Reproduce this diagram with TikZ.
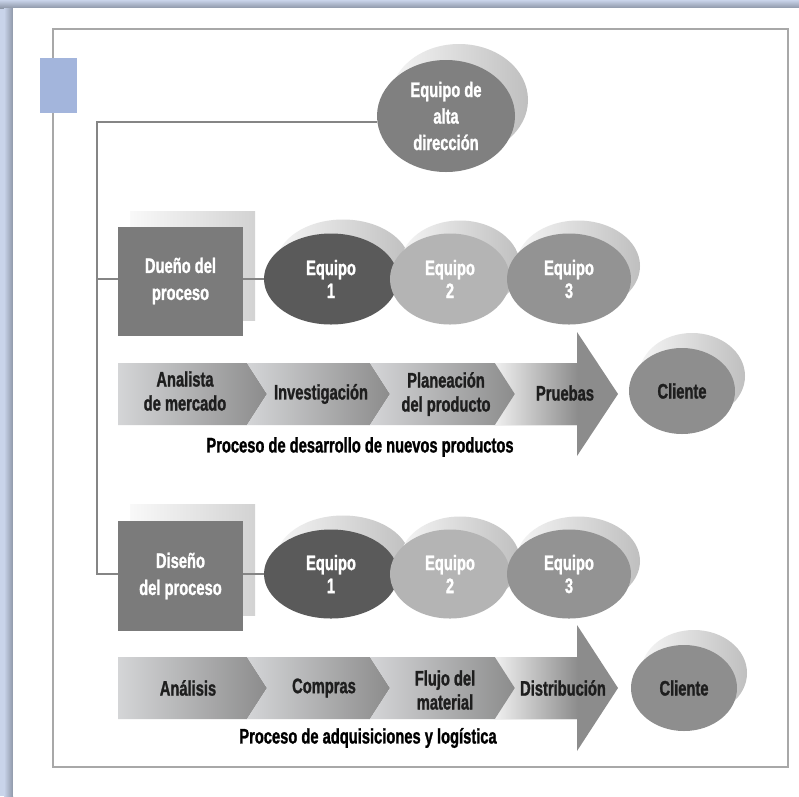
\documentclass[tikz,border=0pt]{standalone}
\usepackage{fontspec}
\setmainfont{Liberation Sans}[FakeStretch=0.7, BoldFeatures={FakeBold=1.2}]
\usetikzlibrary{shapes.geometric}

\definecolor{pagebg}{HTML}{C9D4EA}
\definecolor{edgeshade}{HTML}{8E97A8}
\definecolor{tabblue}{HTML}{A3B5DC}
\definecolor{framegray}{HTML}{A8A8A8}
\definecolor{linegray}{HTML}{858585}
\definecolor{boxgray}{HTML}{7B7B7B}
\definecolor{topgray}{HTML}{808080}
\definecolor{teamA}{HTML}{5A5A5A}
\definecolor{teamB}{HTML}{B4B4B4}
\definecolor{teamC}{HTML}{939393}
\definecolor{clientgray}{HTML}{8E8E8E}
\definecolor{steplight}{HTML}{D4D5D7}
\definecolor{stepdark}{HTML}{8C8C8C}
\definecolor{inkdark}{HTML}{1E1E1E}

\tikzset{
  lbl/.style={font=\bfseries\fontsize{21}{23}\selectfont, align=center, inner sep=0pt},
  tree/.style={draw=linegray, line width=1.3pt},
  backoval/.style={ellipse, draw=none, inner sep=0pt, left color=gray!8, right color=gray!50},
  backbox/.style={rectangle, draw=none, inner sep=0pt, left color=gray!5, right color=gray!35,
                  minimum width=125pt, minimum height=109pt},
  team/.style={ellipse, draw=none, inner sep=0pt, minimum height=91pt, lbl, text=white},
  procbox/.style={rectangle, draw=none, fill=boxgray, inner sep=0pt, minimum width=125pt,
                  minimum height=109pt, lbl, text=white,
                  font=\bfseries\fontsize{21}{27}\selectfont},
  client/.style={ellipse, draw=none, inner sep=0pt, minimum width=106pt, minimum height=86pt,
                 fill=clientgray, lbl, text=inkdark},
  steptext/.style={lbl, text=inkdark, font=\bfseries\fontsize{21}{24}\selectfont},
  caption/.style={lbl, text=black},
}

\begin{document}
\begin{tikzpicture}[x=1pt, y=-1pt]
  \useasboundingbox (0,0) rectangle (799,796);

  % page and its shaded edges
  \fill[pagebg] (0,0) rectangle (799,796);
  \shade[top color=pagebg, bottom color=edgeshade] (0,0) rectangle (799,8);
  \shade[left color=pagebg, right color=edgeshade] (4,8) rectangle (13,796);
  \fill[white] (13,8) rectangle (799,796);

  % inner frame and tab
  \draw[framegray, line width=1.3pt] (53,29) rectangle (788,767);
  \fill[tabblue] (40,58) rectangle (77,113);

  % top management oval
  \node[backoval, minimum width=138pt, minimum height=112pt] (topb) at (459,100) {};
  \node[ellipse, draw=none, inner sep=0pt, minimum width=138pt, minimum height=112pt,
        fill=topgray, lbl, text=white, font=\bfseries\fontsize{21}{26.5}\selectfont]
        (top) at (446,116) {Equipo de\\alta\\dirección};

  % ---------- first process ----------
  \node[backbox] (o1b) at (192.5,265.5) {};
  \node[procbox] (o1) at (180.5,281) {Dueño del\\proceso};

  \node[backoval, minimum width=134pt, minimum height=91pt] (t1b) at (343,265) {};
  \node[backoval, minimum width=120pt, minimum height=91pt] (t2b) at (460,266) {};
  \node[backoval, minimum width=124pt, minimum height=91pt] (t3b) at (578,266) {};
  \node[team, fill=teamA, minimum width=134pt] (t1) at (331,279) {Equipo\\1};
  \node[team, fill=teamB, minimum width=120pt] (t2) at (450,279) {Equipo\\2};
  \node[team, fill=teamC, minimum width=124pt] (t3) at (569,279) {Equipo\\3};

  \begin{scope}[shift={(0,394)}]
    \shade[left color=steplight, right color=stepdark]
      (118,-31) -- (247,-31) -- (267,0) -- (247,31) -- (118,31) -- cycle;
    \shade[left color=steplight, right color=stepdark]
      (247,-31) -- (370,-31) -- (390,0) -- (370,31) -- (247,31) -- (267,0) -- cycle;
    \shade[left color=steplight, right color=stepdark]
      (370,-31) -- (495,-31) -- (515,0) -- (495,31) -- (370,31) -- (390,0) -- cycle;
    \fill[stepdark]
      (495,-31) -- (577,-31) -- (577,-62) -- (618,0) -- (577,62) -- (577,31)
      -- (495,31) -- (515,0) -- cycle;
    \shade[left color=gray!12, right color=stepdark]
      (495,-31) -- (578,-31) -- (578,31) -- (495,31) -- (515,0) -- cycle;
    \node[steptext] (s11) at (185,-3) {Analista\\de mercado};
    \node[steptext] (s12) at (321,0) {Investigación};
    \node[steptext] (s13) at (446,0) {Planeación\\del producto};
    \node[steptext] (s14) at (565,-1) {Pruebas};
  \end{scope}

  \node[backoval, minimum width=106pt, minimum height=86pt] (c1b) at (692,376) {};
  \node[client] (c1) at (682,391) {Cliente};

  \node[caption] (cap1) at (360,447) {Proceso de desarrollo de nuevos productos};

  % ---------- second process ----------
  \node[backbox, minimum height=111pt] (o2b) at (192.5,559.5) {};
  \node[procbox, minimum height=110pt] (o2) at (180.5,576) {Diseño\\del proceso};

  \node[backoval, minimum width=134pt, minimum height=89pt] (u1b) at (343,560) {};
  \node[backoval, minimum width=120pt, minimum height=89pt] (u2b) at (460,561) {};
  \node[backoval, minimum width=124pt, minimum height=89pt] (u3b) at (578,561) {};
  \node[team, fill=teamA, minimum width=134pt, minimum height=89pt] (u1) at (331,574) {Equipo\\1};
  \node[team, fill=teamB, minimum width=120pt, minimum height=89pt] (u2) at (450,574) {Equipo\\2};
  \node[team, fill=teamC, minimum width=124pt, minimum height=89pt] (u3) at (569,574) {Equipo\\3};

  \begin{scope}[shift={(0,688)}]
    \shade[left color=steplight, right color=stepdark]
      (118,-31) -- (247,-31) -- (267,0) -- (247,31) -- (118,31) -- cycle;
    \shade[left color=steplight, right color=stepdark]
      (247,-31) -- (370,-31) -- (390,0) -- (370,31) -- (247,31) -- (267,0) -- cycle;
    \shade[left color=steplight, right color=stepdark]
      (370,-31) -- (495,-31) -- (515,0) -- (495,31) -- (370,31) -- (390,0) -- cycle;
    \fill[stepdark]
      (495,-31) -- (577,-31) -- (577,-63) -- (618,0) -- (577,63) -- (577,31)
      -- (495,31) -- (515,0) -- cycle;
    \shade[left color=gray!12, right color=stepdark]
      (495,-31) -- (578,-31) -- (578,31) -- (495,31) -- (515,0) -- cycle;
    \node[steptext] (s21) at (188,0) {Análisis};
    \node[steptext] (s22) at (324,0) {Compras};
    \node[steptext] (s23) at (445,2) {Flujo del\\material};
    \node[steptext] (s24) at (563,0) {Distribución};
  \end{scope}

  \node[backoval, minimum width=106pt, minimum height=86pt] (c2b) at (694,673) {};
  \node[client] (c2) at (684,688) {Cliente};

  \node[caption] (cap2) at (368,738) {Proceso de adquisiciones y logística};

  % ---------- organisation lines ----------
  \coordinate (root) at (97,122);
  \draw[tree] (top.west |- root) -- (root) |- (u1.west -| o2.west);
  \draw[tree] (root) |- (t1.west -| o1.west);
  \draw[tree] (t1.west -| o1.east) -- (t1.west);
  \draw[tree] (u1.west -| o2.east) -- (u1.west);
\end{tikzpicture}
\end{document}
